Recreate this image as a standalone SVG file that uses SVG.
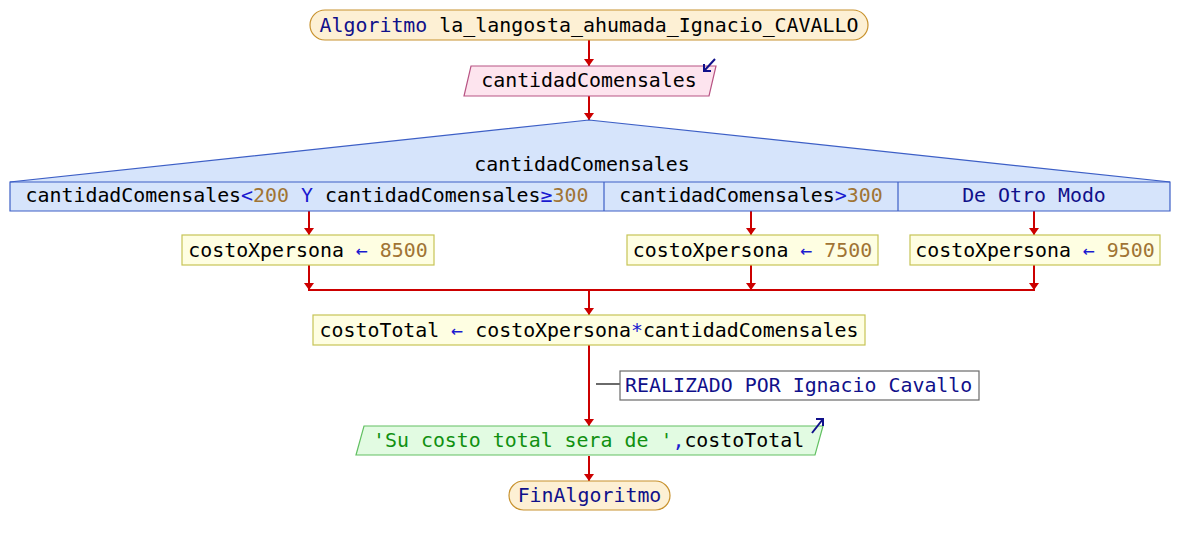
<svg xmlns="http://www.w3.org/2000/svg" width="1178" height="545" viewBox="0 0 1178 545">
<defs>
<marker id="ah" viewBox="0 0 7 10" refX="7" refY="5" markerWidth="7" markerHeight="10" markerUnits="userSpaceOnUse" orient="auto">
<path d="M0,0 L7,5 L0,10 z" fill="#cc0000"/>
</marker>
</defs>
<style>
text{font-family:"DejaVu Sans Mono","Liberation Mono",monospace;font-size:19.9px;fill:#000}
.kw{fill:#10108a}
.op{fill:#1a1ad0}
.num{fill:#a07434}
.str{fill:#109010}
.term{fill:#fdf0d4;stroke:#c8922e;stroke-width:1.2}
.inp{fill:#fde4ee;stroke:#b85484;stroke-width:1.2}
.sw{fill:#d6e4fb;stroke:#3d5fc6;stroke-width:1.2}
.asg{fill:#fefee2;stroke:#c6c456;stroke-width:1.2}
.out{fill:#e2fbe2;stroke:#62c062;stroke-width:1.2}
.cmt{fill:#fff;stroke:#6a6a6a;stroke-width:1.2}
.c{stroke:#cc0000;stroke-width:2;fill:none}
.ic{stroke:#10108a;stroke-width:2;fill:none}
</style>
<rect width="1178" height="545" fill="#fff"/>
<g id="connectors">
<line class="c" x1="589" y1="40" x2="589" y2="66" marker-end="url(#ah)"/>
<line class="c" x1="589" y1="96" x2="589" y2="120" marker-end="url(#ah)"/>
<line class="c" x1="309" y1="211" x2="309" y2="235" marker-end="url(#ah)"/>
<line class="c" x1="751" y1="211" x2="751" y2="235" marker-end="url(#ah)"/>
<line class="c" x1="1034" y1="211" x2="1034" y2="235" marker-end="url(#ah)"/>
<line class="c" x1="309" y1="265" x2="309" y2="290" marker-end="url(#ah)"/>
<line class="c" x1="751" y1="265" x2="751" y2="290" marker-end="url(#ah)"/>
<line class="c" x1="1034" y1="265" x2="1034" y2="290" marker-end="url(#ah)"/>
<line class="c" x1="308" y1="290" x2="1035" y2="290"/>
<line class="c" x1="589" y1="290" x2="589" y2="315" marker-end="url(#ah)"/>
<line class="c" x1="589" y1="345" x2="589" y2="426" marker-end="url(#ah)"/>
<line class="c" x1="589" y1="456" x2="589" y2="481" marker-end="url(#ah)"/>
<line x1="596" y1="384" x2="620" y2="384" stroke="#6a6a6a" stroke-width="2"/>
</g>
<g id="start">
<rect class="term" x="310" y="10" width="558" height="30" rx="15" ry="15"/>
<text x="589" y="32" text-anchor="middle"><tspan class="kw">Algoritmo</tspan> la_langosta_ahumada_Ignacio_CAVALLO</text>
</g>
<g id="input">
<polygon class="inp" points="471,66 716,66 709,96 464,96"/>
<text x="589" y="87" text-anchor="middle">cantidadComensales</text>
<path class="ic" d="M715,59 L704,71 M704,64 L704,71 L711,71"/>
</g>
<g id="switch">
<polygon class="sw" points="589,120 1170,182 1170,211 10,211 10,182"/>
<line x1="10" y1="182" x2="1170" y2="182" stroke="#3d5fc6" stroke-width="1.2"/>
<line x1="604" y1="182" x2="604" y2="211" stroke="#3d5fc6" stroke-width="1.2"/>
<line x1="898" y1="182" x2="898" y2="211" stroke="#3d5fc6" stroke-width="1.2"/>
<text x="582" y="171" text-anchor="middle">cantidadComensales</text>
<text x="307" y="202" text-anchor="middle">cantidadComensales<tspan class="op">&lt;</tspan><tspan class="num">200</tspan><tspan class="op"> Y </tspan>cantidadComensales<tspan class="op">≥</tspan><tspan class="num">300</tspan></text>
<text x="751" y="202" text-anchor="middle">cantidadComensales<tspan class="op">&gt;</tspan><tspan class="num">300</tspan></text>
<text x="1034" y="202" text-anchor="middle" class="kw">De Otro Modo</text>
</g>
<g id="assign1">
<rect class="asg" x="182" y="235" width="252" height="30"/>
<text x="308" y="257" text-anchor="middle">costoXpersona <tspan class="op">←</tspan> <tspan class="num">8500</tspan></text>
</g>
<g id="assign2">
<rect class="asg" x="627" y="235" width="251" height="30"/>
<text x="752.5" y="257" text-anchor="middle">costoXpersona <tspan class="op">←</tspan> <tspan class="num">7500</tspan></text>
</g>
<g id="assign3">
<rect class="asg" x="910" y="235" width="250" height="30"/>
<text x="1035" y="257" text-anchor="middle">costoXpersona <tspan class="op">←</tspan> <tspan class="num">9500</tspan></text>
</g>
<g id="assignTotal">
<rect class="asg" x="313" y="315" width="552" height="30"/>
<text x="589" y="337" text-anchor="middle">costoTotal <tspan class="op">←</tspan> costoXpersona<tspan class="op">*</tspan>cantidadComensales</text>
</g>
<g id="comment">
<rect class="cmt" x="620" y="371" width="359" height="29"/>
<text x="625" y="392" class="kw">REALIZADO POR Ignacio Cavallo</text>
</g>
<g id="output">
<polygon class="out" points="364,426 823,426 815,455 356,455"/>
<text x="373" y="447"><tspan class="str">'Su costo total sera de '</tspan><tspan class="op">,</tspan>costoTotal</text>
<path class="ic" d="M812,433 L823,419 M816,419 L823,419 L823,426"/>
</g>
<g id="end">
<rect class="term" x="509" y="481" width="161" height="29" rx="14.5" ry="14.5"/>
<text x="589.5" y="502" text-anchor="middle" class="kw">FinAlgoritmo</text>
</g>
</svg>
